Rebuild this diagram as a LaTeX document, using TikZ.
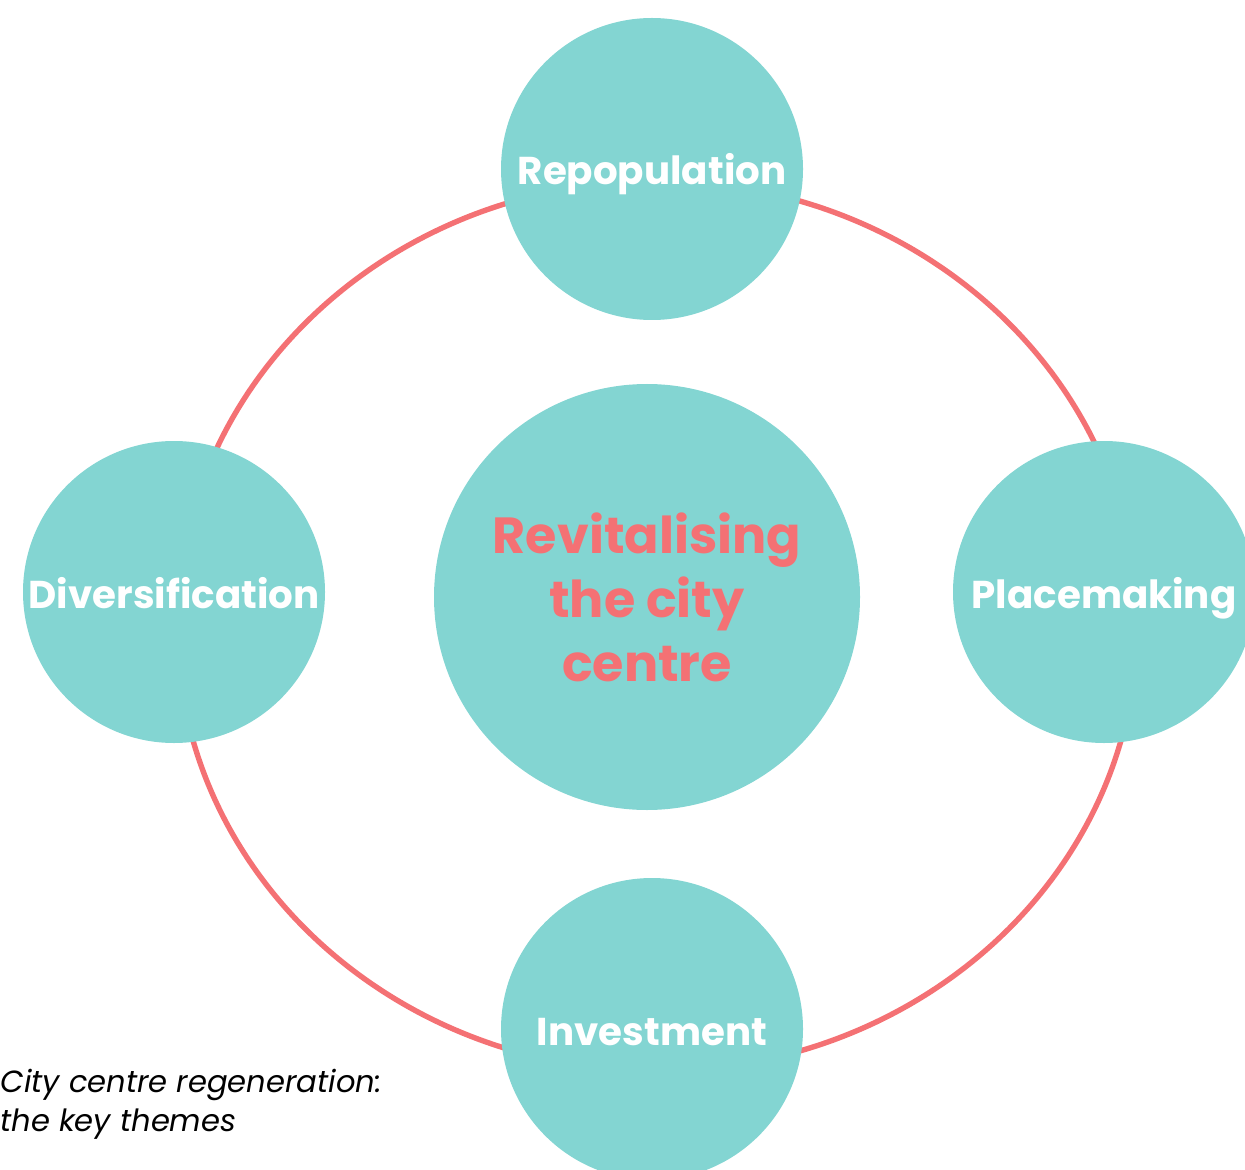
\documentclass[tikz,border=0pt]{standalone}
\usepackage{fontspec}
\newfontfamily\themefont{Poppins Bold}
\newfontfamily\capfont{Poppins Italic}
\usetikzlibrary{backgrounds}

\definecolor{themeteal}{HTML}{83D5D2}
\definecolor{ringred}{HTML}{F47174}

\tikzset{
  theme/.style={circle, fill=themeteal, minimum size=151pt, inner sep=0pt,
    text=white, font=\themefont\fontsize{19.4}{24}\selectfont},
  small theme/.style={theme, text height=16pt, text depth=0pt},
}

\begin{document}
\begin{tikzpicture}[x=0.5pt, y=-0.5pt]

  \clip (0, 0) rectangle (1245, 1170);

  % theme circles
  \node at (652, 169) (repop) [small theme] {Repopulation};
  \node at (174, 592) (divers) [small theme] {Diversification};
  \node at (1104, 592) (place) [small theme] {Placemaking};
  \node at (652, 1029) (invest) [small theme] {Investment};

  % centre circle
  \node at (647, 597) (centre) [theme, minimum size=213pt, text=ringred, align=center,
    font=\themefont\fontsize{25.4}{32}\selectfont] {Revitalising\\the city\\centre};

  % ring behind the circles
  \begin{scope}[on background layer]
    \coordinate (ringc) at (657, 626);
    \draw [ringred, line width=2.7pt] (ringc) ellipse [x radius=240pt, y radius=222.5pt];
  \end{scope}

  % caption
  \node at (0, 1069) (caption) [anchor=north west, inner sep=0pt, align=left,
    font=\capfont\fontsize{15.3}{19.5}\selectfont] {City centre regeneration:\\the key themes};

\end{tikzpicture}
\end{document}
